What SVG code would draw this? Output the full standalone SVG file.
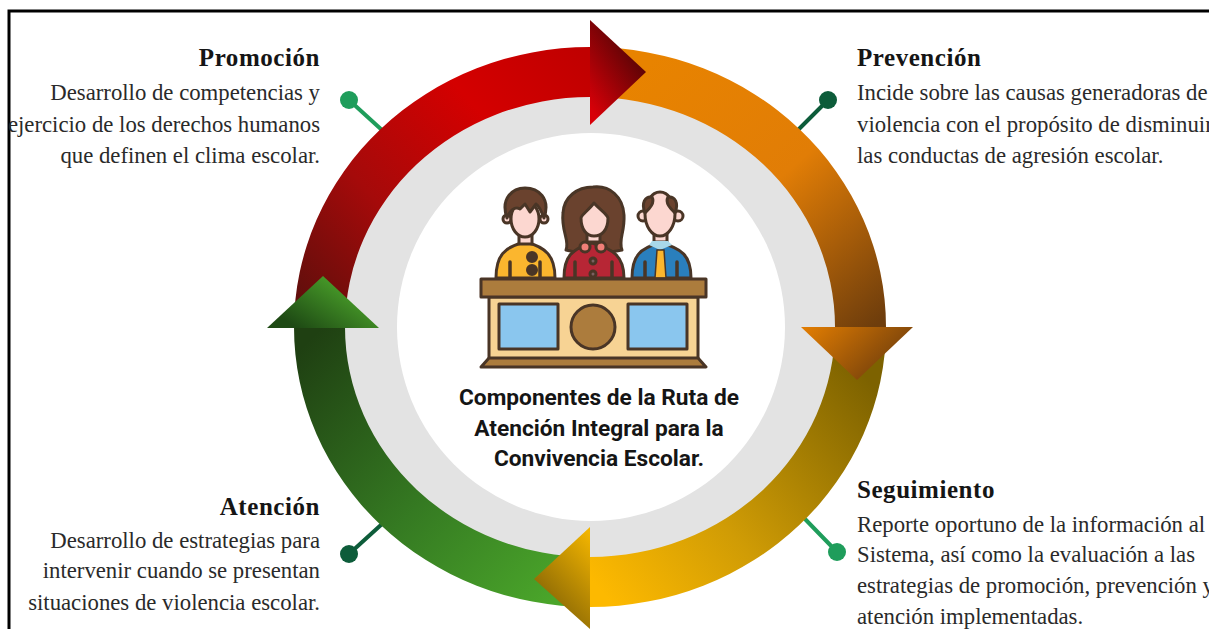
<svg xmlns="http://www.w3.org/2000/svg" width="1209" height="629" viewBox="0 0 1209 629">
<style>
.t{font-family:"Liberation Serif","Times New Roman",serif;font-size:22.75px;fill:#2a2a2a}
.h{font-family:"Liberation Serif","Times New Roman",serif;font-size:25px;font-weight:bold;fill:#151515;letter-spacing:.55px}
.e{text-anchor:end}
.c{font-family:Roboto,"Liberation Sans",sans-serif;font-size:22.7px;font-weight:700;fill:#151515;text-anchor:middle}
.i{stroke:#4a3526;stroke-width:3;stroke-linejoin:round;stroke-linecap:round}
.l{fill:none;stroke-width:3.5}
.sk{fill:#fcd7d0}
.hr{fill:#6b432e}
</style>
<defs>
<linearGradient id="gr" gradientUnits="userSpaceOnUse" x1="300" y1="320" x2="590" y2="60"><stop offset="0" stop-color="#5a0f0c"/><stop offset=".35" stop-color="#a50a0a"/><stop offset=".7" stop-color="#d40000"/><stop offset="1" stop-color="#c00000"/></linearGradient>
<linearGradient id="go" gradientUnits="userSpaceOnUse" x1="640" y1="70" x2="870" y2="330"><stop offset="0" stop-color="#e88300"/><stop offset=".5" stop-color="#e17d06"/><stop offset="1" stop-color="#6e3d0c"/></linearGradient>
<linearGradient id="gy" gradientUnits="userSpaceOnUse" x1="860" y1="370" x2="600" y2="590"><stop offset="0" stop-color="#7d6200"/><stop offset=".6" stop-color="#d09c05"/><stop offset="1" stop-color="#fdb900"/></linearGradient>
<linearGradient id="gg" gradientUnits="userSpaceOnUse" x1="310" y1="340" x2="560" y2="590"><stop offset="0" stop-color="#1f4012"/><stop offset=".55" stop-color="#357a22"/><stop offset="1" stop-color="#4aa52a"/></linearGradient>
<linearGradient id="ar" gradientUnits="objectBoundingBox" x1=".9" y1="0.1" x2=".2" y2="1"><stop offset="0" stop-color="#3d0505"/><stop offset="1" stop-color="#d80008"/></linearGradient>
<linearGradient id="ao" gradientUnits="objectBoundingBox" x1="0" y1="0.1" x2="1" y2=".6"><stop offset="0" stop-color="#e07c02"/><stop offset="1" stop-color="#6d3c0c"/></linearGradient>
<linearGradient id="ay" gradientUnits="objectBoundingBox" x1=".9" y1="0" x2=".3" y2="1"><stop offset="0" stop-color="#f3b500"/><stop offset="1" stop-color="#7a5c06"/></linearGradient>
<linearGradient id="ag" gradientUnits="objectBoundingBox" x1=".2" y1=".9" x2=".9" y2=".4"><stop offset="0" stop-color="#1e4a14"/><stop offset="1" stop-color="#4aa02a"/></linearGradient>
<filter id="s" x="-10%" y="-10%" width="120%" height="120%"><feGaussianBlur stdDeviation=".6"/></filter>
</defs>
<rect width="1209" height="629" fill="#fff"/>
<path d="M9 629V11H1209" fill="none" stroke="#000" stroke-width="3"/>
<g id="centro-disco">
<ellipse cx="590" cy="327" rx="246" ry="231" fill="#e3e3e3"/>
<ellipse cx="591" cy="327" rx="194" ry="194" fill="#fff"/>
</g>
<g id="conectores" stroke-linecap="round">
<g stroke-width="4">
<path d="M349 100L383 131" stroke="#1f9d5b"/>
<path d="M828 100L798 130" stroke="#0d5c3a"/>
<path d="M837 552L805 519" stroke="#1f9d5b"/>
<path d="M349 554L382 524" stroke="#0d5c3a"/>
</g>
<circle cx="349" cy="100" r="9" fill="#1f9d5b"/>
<circle cx="828" cy="100" r="9" fill="#0d5c3a"/>
<circle cx="837" cy="552" r="9" fill="#1f9d5b"/>
<circle cx="349" cy="554" r="9" fill="#0d5c3a"/>
</g>
<g id="anillo">
<path d="M590 47A296 280 0 0 1 886 327H835A245 230 0 0 0 590 97Z" fill="url(#go)"/>
<path d="M886 327A296 280 0 0 1 590 607V557A245 230 0 0 0 835 327Z" fill="url(#gy)"/>
<path d="M590 607A296 280 0 0 1 294 327H345A245 230 0 0 0 590 557Z" fill="url(#gg)"/>
<path d="M294 327A296 280 0 0 1 590 47V97A245 230 0 0 0 345 327Z" fill="url(#gr)"/>
<path d="M590 20V125L646 72Z" fill="url(#ar)"/>
<path d="M801 327H913L857 380Z" fill="url(#ao)"/>
<path d="M590 527V629L534 579Z" fill="url(#ay)"/>
<path d="M323 276L267 328H379Z" fill="url(#ag)"/>
</g>
<g id="icono" filter="url(#s)">
<g id="persona-1">
<path class="i" d="M496 278C496 256 504 247 525 242C546 247 555 256 555 278Z" fill="#fbb62d"/>
<path class="i l" d="M510 278V262M540 278V262"/>
<circle class="i" cx="532" cy="257" r="4.5" fill="#4a3526"/><circle class="i" cx="532" cy="270" r="4.5" fill="#4a3526"/>
<rect class="i sk" x="519" y="230" width="13" height="14"/>
<circle class="i sk" cx="507" cy="219" r="4"/><circle class="i sk" cx="544" cy="219" r="4"/>
<ellipse class="i sk" cx="525" cy="219" rx="14" ry="18"/>
<path class="i hr" d="M507 218C500 198 513 188 525 188C538 188 551 198 544 218C541 210 539 206 536 204L530 212L525 204L520 209C515 206 510 210 507 218Z"/>
</g>
<g id="persona-2">
<path class="i hr" d="M593 187C610 185 623 197 624 215C625 232 618 240 622 250L600 254H584L566 250C570 240 561 232 563 213C564 197 577 187 593 187Z"/>
<path class="i" d="M564 278C564 256 572 249 592 243C613 249 624 256 624 278Z" fill="#b72536"/>
<circle class="i" cx="585" cy="247" r="5" fill="#f07f78"/><circle class="i" cx="601" cy="247" r="5" fill="#f07f78"/>
<path class="i l" d="M575 278V262M612 278V262"/>
<circle class="i" cx="593" cy="261" r="3" fill="#7a6060"/><circle class="i" cx="593" cy="274" r="3" fill="#7a6060"/>
<rect class="i sk" x="587" y="230" width="13" height="12"/>
<path class="i sk" d="M594 203C587 212 582 214 581 218C581 230 587 236 594 236C602 236 608 230 608 218C607 214 600 210 594 203Z"/>
</g>
<g id="persona-3">
<path class="i" d="M632 278C632 256 640 248 660 243C682 248 691 256 691 278Z" fill="#2a7fbd"/>
<path class="i l" d="M645 278V262M677 278V262"/>
<rect class="i sk" x="654" y="230" width="13" height="12"/>
<path d="M649 245L660 250L672 245L668 241H652Z" fill="#a8d8ea"/>
<path d="M657 250H664L666 278H655Z" fill="#fbb62d" stroke="#4a3526" stroke-width="1.5"/>
<circle class="i sk" cx="643" cy="216" r="5"/><circle class="i sk" cx="678" cy="216" r="5"/>
<ellipse class="i sk" cx="660" cy="214" rx="15" ry="22"/>
<path class="i hr" d="M645 213C641 203 645 196 652 197C655 203 650 208 645 213ZM675 213C679 203 675 196 668 197C665 203 670 208 675 213Z"/>
</g>
<g id="mesa">
<rect class="i" x="489" y="297" width="209" height="62" fill="#f7d394"/>
<rect class="i" x="481" y="279" width="225" height="18" fill="#ac7b3e"/>
<path class="i" d="M489 358H698L706 367H481Z" fill="#ac7b3e"/>
<rect class="i" x="499" y="304" width="59" height="45" fill="#8ac6ee"/>
<rect class="i" x="628" y="304" width="59" height="45" fill="#8ac6ee"/>
<circle class="i" cx="593" cy="327" r="22" fill="#ac7b3e"/>
</g>
</g>
<g id="titulo-centro">
<text class="c" x="599" y="405">Componentes de la Ruta de</text>
<text class="c" x="599" y="436">Atención Integral para la</text>
<text class="c" x="599" y="466">Convivencia Escolar.</text>
</g>
<g id="promocion">
<text class="h e" x="320" y="66">Promoción</text>
<text class="t e" x="320" y="100">Desarrollo de competencias y</text>
<text class="t e" x="320" y="132">ejercicio de los derechos humanos</text>
<text class="t e" x="320" y="163">que definen el clima escolar.</text>
</g>
<g id="prevencion">
<text class="h" x="857" y="66">Prevención</text>
<text class="t" x="857" y="100">Incide sobre las causas generadoras de</text>
<text class="t" x="857" y="132">violencia con el propósito de disminuir</text>
<text class="t" x="857" y="163">las conductas de agresión escolar.</text>
</g>
<g id="seguimiento">
<text class="h" x="857" y="498">Seguimiento</text>
<text class="t" x="857" y="532">Reporte oportuno de la información al</text>
<text class="t" x="857" y="562">Sistema, así como la evaluación a las</text>
<text class="t" x="857" y="593">estrategias de promoción, prevención y</text>
<text class="t" x="857" y="624">atención implementadas.</text>
</g>
<g id="atencion">
<text class="h e" x="320" y="515">Atención</text>
<text class="t e" x="320" y="548">Desarrollo de estrategias para</text>
<text class="t e" x="320" y="578">intervenir cuando se presentan</text>
<text class="t e" x="320" y="610">situaciones de violencia escolar.</text>
</g>
</svg>
